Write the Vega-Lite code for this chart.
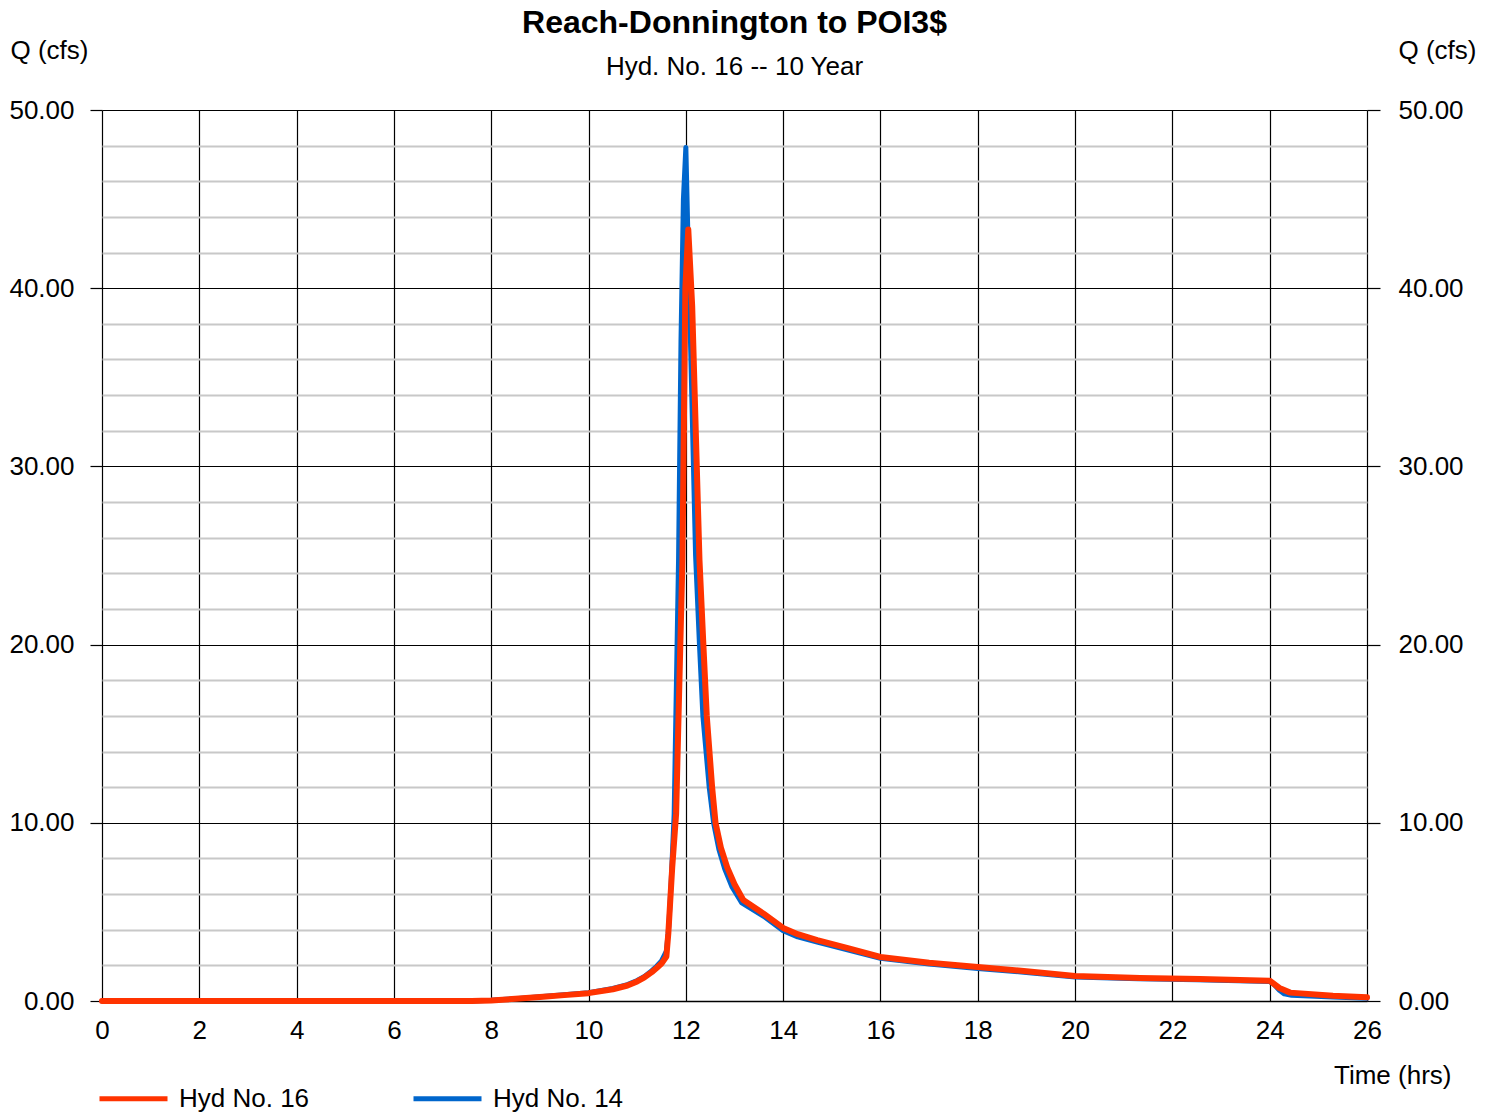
{
  "$schema": "https://vega.github.io/schema/vega-lite/v6.json",
  "width": 1265,
  "height": 891,
  "autosize": {"type": "none"},
  "padding": {"left": 102, "top": 110, "right": 127, "bottom": 111},
  "background": "white",
  "config": {
    "font": "Liberation Sans",
    "view": {"stroke": null},
    "axis": {"labelFont": "Liberation Sans", "titleFont": "Liberation Sans", "labelColor": "black", "titleColor": "black", "titleFontWeight": "normal"}
  },
  "title": {
    "text": "Reach-Donnington to POI3$",
    "subtitle": "Hyd. No. 16 -- 10 Year",
    "anchor": "middle",
    "font": "Liberation Sans",
    "fontSize": 32,
    "fontWeight": "bold",
    "color": "black",
    "subtitleFont": "Liberation Sans",
    "subtitleFontSize": 26,
    "subtitleColor": "black",
    "subtitlePadding": 14,
    "offset": -44
  },
  "datasets": {
    "h14": [
      {"t": 0, "q": 0, "series": "Hyd No. 14"},
      {"t": 2, "q": 0, "series": "Hyd No. 14"},
      {"t": 4, "q": 0, "series": "Hyd No. 14"},
      {"t": 6, "q": 0, "series": "Hyd No. 14"},
      {"t": 7.6, "q": 0, "series": "Hyd No. 14"},
      {"t": 8, "q": 0.04, "series": "Hyd No. 14"},
      {"t": 8.5, "q": 0.13, "series": "Hyd No. 14"},
      {"t": 9, "q": 0.24, "series": "Hyd No. 14"},
      {"t": 9.5, "q": 0.35, "series": "Hyd No. 14"},
      {"t": 10, "q": 0.47, "series": "Hyd No. 14"},
      {"t": 10.5, "q": 0.7, "series": "Hyd No. 14"},
      {"t": 10.8, "q": 0.92, "series": "Hyd No. 14"},
      {"t": 11, "q": 1.15, "series": "Hyd No. 14"},
      {"t": 11.15, "q": 1.38, "series": "Hyd No. 14"},
      {"t": 11.3, "q": 1.7, "series": "Hyd No. 14"},
      {"t": 11.4, "q": 1.95, "series": "Hyd No. 14"},
      {"t": 11.5, "q": 2.25, "series": "Hyd No. 14"},
      {"t": 11.6, "q": 2.8, "series": "Hyd No. 14"},
      {"t": 11.65, "q": 4.2, "series": "Hyd No. 14"},
      {"t": 11.7, "q": 6.8, "series": "Hyd No. 14"},
      {"t": 11.76, "q": 10.5, "series": "Hyd No. 14"},
      {"t": 11.85, "q": 24.75, "series": "Hyd No. 14"},
      {"t": 11.9, "q": 37, "series": "Hyd No. 14"},
      {"t": 11.95, "q": 45, "series": "Hyd No. 14"},
      {"t": 12.0, "q": 47.9, "series": "Hyd No. 14"},
      {"t": 12.05, "q": 42, "series": "Hyd No. 14"},
      {"t": 12.1, "q": 36.5, "series": "Hyd No. 14"},
      {"t": 12.2, "q": 25, "series": "Hyd No. 14"},
      {"t": 12.28, "q": 20, "series": "Hyd No. 14"},
      {"t": 12.35, "q": 16, "series": "Hyd No. 14"},
      {"t": 12.48, "q": 12, "series": "Hyd No. 14"},
      {"t": 12.57, "q": 10, "series": "Hyd No. 14"},
      {"t": 12.68, "q": 8.5, "series": "Hyd No. 14"},
      {"t": 12.8, "q": 7.4, "series": "Hyd No. 14"},
      {"t": 12.95, "q": 6.4, "series": "Hyd No. 14"},
      {"t": 13.15, "q": 5.5, "series": "Hyd No. 14"},
      {"t": 13.6, "q": 4.75, "series": "Hyd No. 14"},
      {"t": 14.0, "q": 3.95, "series": "Hyd No. 14"},
      {"t": 14.3, "q": 3.6, "series": "Hyd No. 14"},
      {"t": 14.7, "q": 3.3, "series": "Hyd No. 14"},
      {"t": 15.3, "q": 2.88, "series": "Hyd No. 14"},
      {"t": 16, "q": 2.4, "series": "Hyd No. 14"},
      {"t": 17, "q": 2.08, "series": "Hyd No. 14"},
      {"t": 18, "q": 1.83, "series": "Hyd No. 14"},
      {"t": 19, "q": 1.6, "series": "Hyd No. 14"},
      {"t": 20, "q": 1.35, "series": "Hyd No. 14"},
      {"t": 21.3, "q": 1.25, "series": "Hyd No. 14"},
      {"t": 22.5, "q": 1.19, "series": "Hyd No. 14"},
      {"t": 24, "q": 1.1, "series": "Hyd No. 14"},
      {"t": 24.1, "q": 0.9, "series": "Hyd No. 14"},
      {"t": 24.2, "q": 0.6, "series": "Hyd No. 14"},
      {"t": 24.3, "q": 0.4, "series": "Hyd No. 14"},
      {"t": 24.45, "q": 0.32, "series": "Hyd No. 14"},
      {"t": 25.3, "q": 0.22, "series": "Hyd No. 14"},
      {"t": 26, "q": 0.15, "series": "Hyd No. 14"}
    ],
    "h16": [
      {"t": 0, "q": 0, "series": "Hyd No. 16"},
      {"t": 2, "q": 0, "series": "Hyd No. 16"},
      {"t": 4, "q": 0, "series": "Hyd No. 16"},
      {"t": 6, "q": 0, "series": "Hyd No. 16"},
      {"t": 7.6, "q": 0, "series": "Hyd No. 16"},
      {"t": 8, "q": 0.03, "series": "Hyd No. 16"},
      {"t": 8.5, "q": 0.12, "series": "Hyd No. 16"},
      {"t": 9, "q": 0.22, "series": "Hyd No. 16"},
      {"t": 9.5, "q": 0.33, "series": "Hyd No. 16"},
      {"t": 10, "q": 0.44, "series": "Hyd No. 16"},
      {"t": 10.5, "q": 0.66, "series": "Hyd No. 16"},
      {"t": 10.8, "q": 0.87, "series": "Hyd No. 16"},
      {"t": 11, "q": 1.1, "series": "Hyd No. 16"},
      {"t": 11.15, "q": 1.33, "series": "Hyd No. 16"},
      {"t": 11.3, "q": 1.62, "series": "Hyd No. 16"},
      {"t": 11.4, "q": 1.85, "series": "Hyd No. 16"},
      {"t": 11.5, "q": 2.1, "series": "Hyd No. 16"},
      {"t": 11.6, "q": 2.5, "series": "Hyd No. 16"},
      {"t": 11.64, "q": 3.8, "series": "Hyd No. 16"},
      {"t": 11.72, "q": 7.5, "series": "Hyd No. 16"},
      {"t": 11.8, "q": 10.5, "series": "Hyd No. 16"},
      {"t": 11.93, "q": 24.75, "series": "Hyd No. 16"},
      {"t": 11.99, "q": 40, "series": "Hyd No. 16"},
      {"t": 12.05, "q": 43.3, "series": "Hyd No. 16"},
      {"t": 12.13, "q": 39, "series": "Hyd No. 16"},
      {"t": 12.28, "q": 24.75, "series": "Hyd No. 16"},
      {"t": 12.36, "q": 20, "series": "Hyd No. 16"},
      {"t": 12.43, "q": 16, "series": "Hyd No. 16"},
      {"t": 12.54, "q": 12, "series": "Hyd No. 16"},
      {"t": 12.61, "q": 10, "series": "Hyd No. 16"},
      {"t": 12.72, "q": 8.6, "series": "Hyd No. 16"},
      {"t": 12.85, "q": 7.5, "series": "Hyd No. 16"},
      {"t": 13.0, "q": 6.55, "series": "Hyd No. 16"},
      {"t": 13.18, "q": 5.67, "series": "Hyd No. 16"},
      {"t": 13.6, "q": 4.9, "series": "Hyd No. 16"},
      {"t": 14.0, "q": 4.1, "series": "Hyd No. 16"},
      {"t": 14.3, "q": 3.75, "series": "Hyd No. 16"},
      {"t": 14.7, "q": 3.42, "series": "Hyd No. 16"},
      {"t": 15.33, "q": 2.97, "series": "Hyd No. 16"},
      {"t": 16, "q": 2.47, "series": "Hyd No. 16"},
      {"t": 17, "q": 2.15, "series": "Hyd No. 16"},
      {"t": 18, "q": 1.91, "series": "Hyd No. 16"},
      {"t": 19, "q": 1.67, "series": "Hyd No. 16"},
      {"t": 20, "q": 1.4, "series": "Hyd No. 16"},
      {"t": 21.34, "q": 1.29, "series": "Hyd No. 16"},
      {"t": 22.57, "q": 1.23, "series": "Hyd No. 16"},
      {"t": 24, "q": 1.14, "series": "Hyd No. 16"},
      {"t": 24.2, "q": 0.73, "series": "Hyd No. 16"},
      {"t": 24.42, "q": 0.47, "series": "Hyd No. 16"},
      {"t": 25.3, "q": 0.3, "series": "Hyd No. 16"},
      {"t": 26, "q": 0.21, "series": "Hyd No. 16"}
    ]
  },
  "encoding": {
    "x": {
      "field": "t",
      "type": "quantitative",
      "scale": {"domain": [0, 26], "nice": false, "zero": false},
      "axis": {
        "values": [0, 2, 4, 6, 8, 10, 12, 14, 16, 18, 20, 22, 24, 26],
        "title": "Time (hrs)",
        "titleFontSize": 26,
        "titleAngle": 0,
        "titleAlign": "right",
        "titleBaseline": "middle",
        "titleX": 1349,
        "titleY": 74,
        "labelFontSize": 26,
        "labelPadding": 16,
        "labelFlush": false,
        "labelOverlap": false,
        "ticks": false,
        "domain": true,
        "domainColor": "black",
        "domainWidth": 1.5,
        "grid": true,
        "gridColor": "black",
        "gridWidth": 1.2,
        "gridOpacity": 1
      }
    },
    "color": {
      "field": "series",
      "type": "nominal",
      "scale": {"domain": ["Hyd No. 16", "Hyd No. 14"], "range": ["#ff3300", "#0066cc"]},
      "legend": {
        "title": null,
        "orient": "none",
        "direction": "horizontal",
        "legendX": -5,
        "legendY": 952,
        "padding": 0,
        "symbolType": "stroke",
        "symbolSize": 4624,
        "symbolStrokeWidth": 5,
        "labelFontSize": 26,
        "labelFont": "Liberation Sans",
        "labelColor": "black",
        "labelOffset": 9,
        "columnPadding": 93
      }
    }
  },
  "layer": [
    {
      "data": {"name": "h14"},
      "mark": {"type": "line", "strokeWidth": 5, "strokeCap": "round", "strokeJoin": "round"},
      "encoding": {
        "y": {
          "field": "q",
          "type": "quantitative",
          "scale": {"domain": [0, 50], "nice": false},
          "axis": {
            "orient": "left",
            "values": [0, 2, 4, 6, 8, 10, 12, 14, 16, 18, 20, 22, 24, 26, 28, 30, 32, 34, 36, 38, 40, 42, 44, 46, 48, 50],
            "labelExpr": "datum.value % 10 === 0 ? format(datum.value, '.2f') : ''",
            "labelFontSize": 26,
            "labelPadding": 16,
            "tickSize": 12,
            "tickColor": "black",
            "tickWidth": 1.2,
            "tickOpacity": {"condition": {"test": "datum.value % 10 === 0", "value": 1}, "value": 0},
            "domain": false,
            "grid": true,
            "gridColor": {"condition": {"test": "datum.value % 10 === 0", "value": "black"}, "value": "#c8c8c8"},
            "gridWidth": {"condition": {"test": "datum.value % 10 === 0", "value": 1.2}, "value": 2},
            "gridOpacity": 1,
            "title": "Q (cfs)",
            "titleFontSize": 26,
            "titleAngle": 0,
            "titleAlign": "left",
            "titleBaseline": "middle",
            "titleX": -92,
            "titleY": -60
          }
        }
      }
    },
    {
      "data": {"name": "h16"},
      "mark": {"type": "line", "strokeWidth": 6, "strokeCap": "round", "strokeJoin": "round"},
      "encoding": {
        "y": {
          "field": "q",
          "type": "quantitative",
          "scale": {"domain": [0, 50], "nice": false},
          "axis": {
            "orient": "right",
            "values": [0, 10, 20, 30, 40, 50],
            "format": ".2f",
            "labelFontSize": 26,
            "labelPadding": 18,
            "tickSize": 13,
            "tickColor": "black",
            "tickWidth": 1.2,
            "domain": false,
            "grid": false,
            "title": "Q (cfs)",
            "titleFontSize": 26,
            "titleAngle": 0,
            "titleAlign": "left",
            "titleBaseline": "middle",
            "titleX": 31,
            "titleY": -60
          }
        }
      }
    }
  ],
  "resolve": {"axis": {"y": "independent"}}
}
